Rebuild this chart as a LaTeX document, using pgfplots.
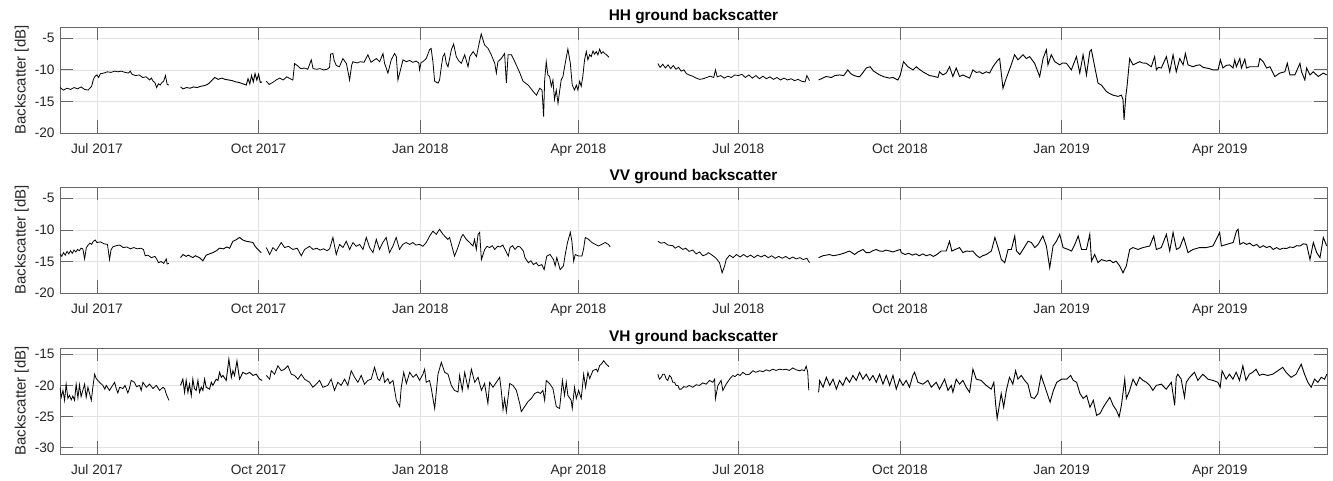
\documentclass[border=0pt]{standalone}
\usepackage{fontspec}
\setmainfont{Liberation Sans}
\usepackage{pgfplots}
\pgfplotsset{compat=1.18}
\definecolor{axc}{RGB}{38,38,38}
\definecolor{gridc}{RGB}{226,226,226}
% x = days since 1 Jul 2017
\pgfplotsset{
  bsc/.style={
    scale only axis, width=633.5pt, height=53pt,
    xmin=-21, xmax=700,
    xtick={0,92,184,274,365,457,549,639},
    xticklabels={Jul 2017,Oct 2017,Jan 2018,Apr 2018,Jul 2018,Oct 2018,Jan 2019,Apr 2019},
    tick align=inside, major tick length=6.3pt,
    grid=major, grid style={gridc, line width=0.35pt},
    axis line style={axc!70, line width=0.4pt},
    every tick/.style={axc!70, line width=0.4pt},
    tick label style={font=\fontsize{6.85}{8}\selectfont, text=axc},
    /pgf/number format/assume math mode=true,
    yticklabel style={anchor=east, inner sep=0pt, xshift=-2.5pt},
    xticklabel style={anchor=north, inner sep=0pt, yshift=-5.1pt},
    ylabel={Backscatter [dB]},
    every axis y label/.style={at={(axis description cs:-0.0302,0.5)}, rotate=90,
      anchor=center, font=\fontsize{7.5}{9}\selectfont, text=axc},
    every axis title/.style={at={(axis description cs:0.5,1)}, anchor=base,
      yshift=3pt, font=\bfseries\fontsize{7.7}{9}\selectfont, text=black},
    cycle list={{black, line width=0.45pt, mark=none}},
    no markers,
  }
}
\begin{document}
\begin{tikzpicture}
\useasboundingbox (0,0) rectangle (666.5pt,240.5pt);

% ---------------- HH ----------------
\begin{axis}[bsc, at={(30pt,174pt)}, anchor=south west,
  ymin=-20, ymax=-3.2, ytick={-20,-15,-10,-5}, title={HH ground backscatter}]
\addplot coordinates {(-21,-12.8) (-19,-13.2) (-17,-12.9) (-15,-13.1) (-13,-12.8) (-11,-13.0) (-9,-12.7) (-7,-13.1) (-5,-13.2) (-3,-12.6) (-2,-11.5) (-1,-11.0) (0,-10.8) (1,-11.2) (2,-10.6) (4,-10.5) (6,-10.3) (8,-10.4) (10,-10.2) (12,-10.3) (14,-10.2) (16,-10.4) (18,-10.5) (19,-10.2) (20,-10.7) (22,-10.9) (24,-10.8) (26,-11.2) (28,-11.1) (30,-11.6) (31,-11.3) (32,-11.8) (33,-12.0) (34,-12.8) (35,-12.2) (36,-12.4) (37,-12.0) (38,-11.8) (39,-10.9) (40,-12.3) (41,-12.4)};
\addplot coordinates {(47.6,-12.7) (49,-13.0) (51,-12.8) (53,-12.9) (55,-12.7) (57,-12.8) (59,-12.6) (61,-12.5) (63,-12.3) (65,-11.8) (67,-11.2) (69,-11.5) (71,-11.3) (73,-11.5) (75,-11.6) (77,-11.7) (79,-11.9) (81,-12.0) (83,-12.2) (85,-12.4) (86,-11.4) (87,-12.2) (88,-10.9) (89,-11.9) (90,-10.6) (91,-11.6) (92,-10.7) (93,-12.0) (94,-11.9)};
\addplot coordinates {(96.4,-11.8) (98,-12.3) (100,-12.0) (102,-11.6) (104,-11.3) (106,-11.6) (108,-11.1) (110,-11.4) (111.5,-11.6) (112.5,-9.0) (114,-9.3) (116,-9.8) (118,-9.7) (120,-9.9) (122,-8.4) (123,-9.8) (125,-9.9) (127,-9.8) (129,-10.0) (131,-9.9) (132.4,-9.6) (133,-7.5) (134.3,-7.4) (135,-8.5) (136.2,-9.3) (138,-9.5) (140,-8.2) (142,-9.0) (143.8,-11.6) (145,-9.2) (145.7,-8.7) (148,-8.9) (150,-8.7) (152,-8.8) (154.2,-7.6) (156,-8.8) (159,-8.2) (160.9,-8.7) (162.8,-7.4) (163.7,-8.95) (165.6,-10.5) (167.5,-8.4) (169.4,-7.4) (170.4,-7.9) (171.3,-11.6) (173.2,-9.5) (174.2,-8.4) (176.1,-8.7) (178,-8.5) (179.8,-8.8) (181.7,-8.6) (183.2,-8.9) (183.6,-10.0) (184.5,-8.8) (185.5,-8.7) (187.4,-8.2) (189.3,-6.8) (190.2,-6.6) (191.2,-8.7) (192.2,-11.8) (194.1,-12.1) (195,-11.6) (196,-9.5) (196.9,-7.9) (197.9,-7.4) (198.8,-8.95) (199.8,-9.5) (201.7,-6.8) (203,-5.9) (204.5,-7.9) (206,-8.6) (207.4,-8.95) (209.3,-7.6) (211.2,-9.5) (212.2,-7.9) (214.1,-7.1) (216,-7.9) (216.9,-6.6) (218.7,-4.3) (220.6,-6.05) (222.6,-6.6) (224.4,-7.6) (226.4,-8.95) (227.3,-10.5) (228.2,-8.7) (230.1,-8.2) (232,-7.4) (233,-12.1) (234,-7.6) (235.9,-7.6) (237.8,-8.7) (240.7,-10.5) (242.5,-11.8) (245.4,-12.4) (248.2,-13.4) (250.1,-14.0) (252,-12.9) (253.3,-13.2) (254.2,-17.4) (254.8,-11.6) (255.7,-8.7) (256.6,-10.8) (257.6,-11.05) (258.6,-12.6) (259.5,-11.6) (260.4,-14.7) (261.4,-13.2) (262.4,-15.3) (263.3,-13.4) (264.2,-11.6) (265.2,-11.05) (266.5,-8.95) (268,-6.7) (269.4,-8.95) (270.5,-12.4) (271.8,-13.2) (272.8,-12.4) (273.7,-13.2) (274.7,-11.8) (275.6,-12.6) (276.5,-11.05) (277.5,-8.4) (278.5,-7.1) (279.4,-8.4) (280.4,-7.6) (281.3,-7.9) (282.3,-7.0) (283.2,-7.5) (284.2,-7.1) (285.1,-7.6) (286.1,-6.7) (287,-7.4) (288,-7.1) (288.9,-7.4) (290,-7.6) (291.4,-8.0)};
\addplot coordinates {(319.2,-9.0) (320.5,-9.6) (322,-9.1) (323.5,-9.7) (325,-9.2) (326.5,-9.8) (328,-9.3) (329.5,-9.9) (331,-9.6) (332.5,-10.2) (334,-10.0) (335.5,-10.6) (337,-10.8) (339,-11.0) (341,-11.3) (343,-11.5) (345,-11.4) (347,-11.2) (349,-11.0) (351,-11.2) (352,-10.0) (353,-11.1) (355,-10.9) (357,-11.3) (359,-11.0) (361,-11.2) (363,-10.8) (365,-10.9) (367,-10.7) (369,-11.2) (371,-10.8) (373,-11.3) (375,-10.9) (377,-11.4) (379,-11.0) (381,-11.4) (383,-11.1) (385,-11.5) (387,-11.2) (389,-11.6) (391,-11.3) (393,-11.6) (395,-11.4) (397,-11.7) (399,-11.5) (401,-11.8) (403,-11.9) (404,-10.9) (405.5,-11.7)};
\addplot coordinates {(410.7,-11.6) (413,-11.3) (415,-11.05) (418,-11.2) (420,-10.9) (422.6,-10.8) (425,-10.9) (427.3,-10.0) (429,-10.6) (430.2,-10.8) (432,-11.0) (434,-11.1) (436,-10.4) (437.8,-9.7) (440,-9.5) (442,-10.2) (445.4,-10.8) (448,-11.1) (451,-11.3) (453,-11.2) (455.8,-11.6) (457.2,-10.8) (459,-8.7) (461.5,-9.5) (464.4,-10.0) (466.2,-9.5) (468,-9.9) (470,-10.3) (473.8,-10.9) (476,-11.0) (478.6,-11.2) (479.5,-10.3) (481.4,-10.8) (483.3,-10.5) (485.2,-9.5) (487.1,-11.05) (489,-9.7) (490.9,-11.05) (492.8,-10.8) (494.7,-11.05) (496.6,-11.3) (498.5,-10.0) (500.4,-10.4) (502.3,-10.3) (504,-10.6) (506.1,-10.3) (508,-10.5) (509.9,-9.5) (512.8,-8.4) (513.7,-8.2) (515.6,-12.9) (517.5,-11.3) (520.3,-9.2) (522.2,-7.6) (524.1,-8.4) (527,-7.6) (528.9,-8.2) (530.8,-7.9) (533.6,-8.95) (536.5,-11.05) (538.4,-8.2) (540.3,-6.8) (541.2,-9.2) (543.1,-7.6) (545.1,-8.7) (547.9,-9.2) (549.5,-8.9) (551.7,-8.95) (554.5,-10.0) (557.4,-7.9) (559.3,-10.5) (561.2,-7.6) (563.1,-10.8) (565,-7.1) (565.9,-6.8) (567.8,-9.5) (569.7,-12.1) (571.6,-12.4) (574.4,-13.4) (576,-13.7) (578.2,-14.0) (581.1,-14.2) (583,-14.0) (583.9,-14.7) (584.5,-17.9) (585.5,-14.2) (586.2,-12.6) (587.7,-8.2) (589.6,-9.2) (591.5,-8.95) (593.4,-8.7) (595,-8.9) (597.2,-8.95) (600,-9.5) (601.9,-7.9) (602.9,-10.0) (604,-9.6) (605.7,-9.7) (608.6,-7.9) (610.5,-10.3) (612.4,-7.6) (614.2,-10.3) (616.2,-8.2) (618.1,-9.2) (619.4,-7.4) (620.9,-9.2) (623.7,-9.5) (625.5,-9.3) (627.6,-9.2) (629.5,-9.6) (631.3,-9.7) (633,-9.8) (635.1,-10.0) (638,-10.0) (639.3,-8.4) (640.8,-9.7) (642.5,-9.3) (644.6,-9.2) (646.5,-9.7) (647.5,-8.4) (648.4,-9.5) (650.4,-8.2) (651.3,-9.7) (653.2,-8.3) (654.2,-9.7) (656.1,-9.5) (658.9,-9.5) (660.8,-9.5) (661.8,-8.2) (663.7,-8.7) (665.6,-9.7) (667.5,-9.5) (670.3,-11.05) (673.2,-10.5) (676,-10.3) (677.4,-8.95) (678.9,-10.8) (681.7,-10.8) (684.6,-8.95) (685.5,-10.3) (687.4,-11.6) (688.4,-9.7) (690.3,-10.8) (692.2,-10.3) (695,-11.05) (697.9,-10.5) (699.8,-10.8)};
\end{axis}

% ---------------- VV ----------------
\begin{axis}[bsc, at={(30pt,94pt)}, anchor=south west,
  ymin=-20, ymax=-3.2, ytick={-20,-15,-10,-5}, title={VV ground backscatter}]
\addplot coordinates {(-21,-13.8) (-20,-14.2) (-19,-13.6) (-18,-14.0) (-17,-13.4) (-16,-13.8) (-15,-13.3) (-14,-13.7) (-13,-13.2) (-12,-13.5) (-11,-13.1) (-10,-13.3) (-9,-12.9) (-8,-13.0) (-7,-14.6) (-6,-12.8) (-5,-12.4) (-4,-12.1) (-3,-12.3) (-2,-11.8) (-1,-11.6) (0,-12.0) (2,-11.9) (4,-12.2) (6,-12.3) (7.2,-14.7) (8,-13.2) (9,-12.7) (11,-12.5) (13,-12.4) (15,-12.8) (17,-12.7) (19,-13.0) (21,-12.8) (23,-13.0) (25,-12.9) (26.5,-13.1) (27.5,-14.1) (29,-14.0) (31,-14.4) (33,-14.2) (34,-14.6) (35,-15.2) (36.5,-15.0) (38,-15.3) (39.5,-14.6) (40,-15.4) (41,-15.3)};
\addplot coordinates {(47.6,-14.4) (49,-13.9) (50.8,-14.2) (52,-14.0) (54.6,-14.4) (56,-14.1) (58.4,-14.4) (60.3,-14.9) (62.2,-14.0) (64,-13.8) (66,-13.6) (68,-13.3) (69.8,-12.9) (72,-13.0) (74,-12.7) (75.5,-12.9) (77.4,-11.8) (79,-11.6) (81.2,-11.2) (83,-11.6) (85,-11.8) (87,-11.9) (88.8,-12.0) (90,-12.6) (91.6,-13.1) (93.5,-13.6)};
\addplot coordinates {(96.4,-12.8) (98.3,-13.9) (100.2,-12.8) (102,-13.3) (104.9,-12.0) (106.8,-12.8) (109,-12.6) (111.5,-13.1) (114,-12.9) (116.3,-14.1) (118.2,-13.1) (121,-12.6) (123,-13.1) (125,-12.9) (127,-13.2) (129,-13.0) (131,-13.3) (132.4,-13.0) (134.3,-11.2) (136.2,-13.9) (138.1,-12.3) (140,-12.8) (141.9,-11.8) (143.8,-13.1) (145.7,-12.0) (147.6,-12.6) (149.5,-12.3) (151.4,-13.1) (153.3,-11.2) (155.2,-12.8) (157.1,-13.6) (159,-11.5) (160.8,-13.1) (162.7,-12.0) (164.6,-11.2) (166.5,-13.6) (168.4,-12.6) (170.3,-11.2) (172.2,-13.1) (174,-12.3) (176,-12.0) (178,-12.3) (179.8,-12.0) (181.5,-12.4) (183.6,-12.3) (185.5,-12.6) (187.4,-12.0) (189.3,-11.0) (191.2,-10.2) (193.1,-10.7) (195,-9.9) (196.9,-10.7) (199.7,-11.5) (200.7,-11.2) (203.5,-14.15) (205.4,-12.8) (207.3,-11.2) (208.3,-10.7) (210.2,-11.5) (212.1,-12.0) (214,-12.55) (214.9,-11.5) (215.9,-13.1) (216.9,-10.7) (217.8,-10.4) (218.8,-14.7) (220.7,-13.1) (222,-12.6) (223.5,-12.8) (225,-12.5) (226.4,-13.1) (228,-12.6) (229.4,-12.7) (231,-12.4) (232.2,-13.1) (234.1,-14.15) (235.1,-12.8) (236.5,-12.5) (237.9,-13.1) (239.5,-12.6) (240.8,-12.7) (242.7,-13.35) (243.6,-14.4) (245.5,-15.2) (247,-14.9) (248.4,-15.5) (250,-15.2) (251.3,-15.7) (253.2,-15.5) (254.5,-16.3) (256,-14.15) (257.9,-13.9) (259.8,-14.7) (260.8,-15.7) (261.7,-14.4) (263.6,-16.3) (265.5,-15.7) (266.5,-13.9) (267.8,-12.0) (269.4,-10.4) (270.3,-11.8) (271.3,-14.95) (272.2,-13.9) (274.2,-14.15) (276,-14.15) (276.9,-13.1) (277.9,-11.2) (279.8,-11.5) (281.7,-12.0) (283.6,-12.3) (285.5,-12.55) (287.3,-12.3) (289.2,-12.0) (291.1,-12.3) (292.1,-12.7)};
\addplot coordinates {(319.2,-11.8) (321,-12.1) (323,-12.0) (325,-12.4) (327.7,-12.5) (329,-12.9) (331,-12.6) (333.4,-13.1) (335,-12.9) (337,-13.4) (339.1,-13.2) (341,-13.8) (343,-13.5) (344.8,-14.1) (346.7,-13.9) (348,-13.6) (349.6,-13.9) (351,-14.2) (352.4,-14.5) (354.3,-15.2) (355.8,-16.8) (357.2,-15.7) (358.1,-14.7) (360,-14.0) (362,-14.4) (364,-13.9) (366,-14.3) (368,-13.9) (370,-14.3) (372,-14.0) (374,-14.4) (376,-14.0) (378,-14.3) (380,-14.0) (382,-14.4) (384,-14.1) (386,-14.5) (388,-14.2) (390,-14.5) (392,-14.2) (394,-14.6) (396,-14.3) (398,-14.6) (400,-14.4) (402,-14.7) (404,-14.5) (405.5,-15.2)};
\addplot coordinates {(410.7,-14.4) (413.1,-14.1) (415,-14.0) (416.9,-13.9) (419,-14.1) (422.6,-13.9) (425,-13.7) (428.3,-13.35) (431.2,-13.9) (433,-13.5) (435.9,-13.1) (437.8,-13.6) (439.7,-13.6) (441.5,-13.3) (443.5,-13.1) (445.4,-13.35) (447.3,-13.4) (449,-13.2) (451.1,-13.35) (453,-13.5) (455,-13.3) (457.2,-13.1) (457.7,-13.6) (460,-13.9) (462,-13.7) (464,-14.0) (466,-13.8) (468,-14.1) (470,-13.8) (472,-14.1) (474,-13.9) (476,-14.2) (478,-13.9) (480.4,-13.35) (483.3,-13.35) (485.2,-11.8) (486.5,-13.35) (488.5,-13.1) (490.9,-12.8) (492.8,-13.6) (494.7,-13.35) (496.6,-13.4) (498.5,-13.35) (500.4,-14.0) (502.3,-14.4) (504,-14.1) (506.1,-13.9) (509,-13.35) (511,-11.2) (512.8,-12.8) (514.7,-14.7) (516.6,-15.2) (518.5,-13.1) (520.4,-13.1) (522.3,-10.96) (523.3,-13.35) (525.2,-13.9) (527,-13.1) (529.9,-11.8) (531.8,-12.0) (533.7,-12.8) (535.6,-12.3) (538.3,-10.96) (540.3,-12.55) (542.2,-16.0) (544.1,-12.55) (546,-11.8) (547.9,-10.7) (549.8,-12.8) (552.7,-13.1) (554.6,-13.35) (556.5,-12.3) (558.4,-10.96) (560.3,-13.1) (563.1,-13.1) (565,-10.7) (566,-14.95) (567.8,-13.9) (569.7,-15.2) (571.6,-14.7) (574.5,-14.95) (576.5,-14.8) (578.3,-15.2) (580,-14.95) (582,-15.7) (583.9,-16.8) (585.8,-15.7) (587.7,-13.1) (589.6,-12.8) (592.4,-13.1) (595.3,-12.8) (599.1,-12.55) (601.4,-10.96) (602.9,-13.1) (605.7,-12.8) (608.6,-10.7) (610.5,-13.35) (612.4,-10.4) (614.3,-13.1) (616.2,-12.8) (618.4,-11.2) (620.9,-13.6) (623.7,-13.1) (627.5,-12.8) (631.3,-12.8) (635.1,-12.55) (638.9,-10.4) (639.9,-12.55) (642.8,-12.3) (646.6,-12.0) (648.5,-10.16) (649.4,-9.9) (650.4,-12.3) (652.3,-12.0) (654.2,-12.3) (656,-12.1) (658,-12.55) (660,-12.3) (661.8,-12.8) (663.7,-12.5) (665.6,-12.8) (667.5,-12.6) (669.4,-13.1) (671.3,-12.8) (673.2,-13.1) (675,-12.9) (677,-12.95) (679,-12.7) (680.8,-12.8) (682.7,-12.5) (684.6,-12.55) (686.5,-12.2) (688.4,-12.3) (690.3,-14.7) (692.2,-12.0) (694.1,-13.6) (696,-14.4) (697.9,-11.2) (699.8,-12.55)};
\end{axis}

% ---------------- VH ----------------
\begin{axis}[bsc, at={(30pt,13.5pt)}, anchor=south west,
  ymin=-31, ymax=-14, ytick={-30,-25,-20,-15}, title={VH ground backscatter}]
\addplot coordinates {(-21,-20.3) (-20.3,-21.9) (-19.3,-20.8) (-18.4,-22.4) (-17.5,-19.8) (-16.5,-22.1) (-15.6,-21.6) (-14.6,-22.3) (-13.7,-21.7) (-12.7,-22.4) (-11.8,-19.8) (-10.8,-22.0) (-9.9,-19.9) (-9,-21.8) (-8,-20.8) (-7,-19.8) (-6.1,-21.9) (-5.1,-20.3) (-4,-21.5) (-3.2,-22.4) (-2.3,-20.3) (-1.3,-18.2) (-0.4,-18.9) (1.5,-19.5) (3.4,-20.0) (4.5,-20.6) (5.3,-20.0) (7.2,-20.8) (8.5,-20.2) (10.1,-19.5) (11,-20.5) (11.9,-21.2) (13,-20.3) (14.8,-20.5) (16,-20.0) (17.6,-21.2) (18.5,-20.5) (19.5,-19.2) (21.4,-19.5) (22.5,-20.2) (24.3,-20.0) (25.2,-20.8) (26.2,-19.5) (28.1,-20.3) (30,-19.8) (31.9,-20.5) (33.8,-20.0) (35.7,-20.8) (37.6,-20.3) (38.5,-20.5) (39.5,-21.4) (41,-22.4)};
\addplot coordinates {(47.6,-20.0) (48.9,-19.0) (49.9,-21.1) (50.8,-19.2) (51.8,-21.1) (52.7,-19.8) (53.7,-21.6) (54.6,-19.0) (55.5,-20.5) (56.5,-20.8) (57.5,-19.2) (58.4,-21.1) (59.4,-20.3) (60.3,-20.8) (61.3,-19.0) (62.2,-20.3) (64.1,-20.6) (65.1,-19.5) (66,-20.0) (67.9,-19.0) (68.9,-19.2) (69.8,-17.9) (70.8,-18.7) (71.7,-18.4) (73.6,-19.2) (75.1,-15.8) (76.5,-18.7) (77.4,-17.65) (78.3,-18.4) (79.7,-16.1) (81.2,-19.0) (83.1,-17.9) (85,-18.2) (86.9,-17.9) (88.8,-18.4) (90.7,-18.2) (92.6,-19.0) (94.1,-19.2)};
\addplot coordinates {(96.4,-18.4) (98.3,-19.0) (99.2,-17.65) (101.1,-18.2) (103,-16.85) (104.9,-17.65) (106.8,-17.4) (108.7,-16.85) (110.6,-18.2) (112.5,-18.4) (114.4,-19.0) (116.3,-18.2) (118.2,-19.0) (121,-19.5) (122.9,-20.3) (124.8,-19.8) (126.7,-19.2) (128.6,-20.3) (131.4,-20.0) (133.3,-19.0) (135.2,-20.8) (137.1,-19.5) (139,-20.0) (140.9,-19.0) (142.8,-20.0) (144.7,-17.65) (146.6,-18.7) (148.5,-19.5) (150.4,-18.4) (152.3,-19.8) (154.2,-19.2) (156.1,-19.0) (158,-17.1) (159.9,-19.0) (160.9,-19.2) (162.8,-17.9) (163.7,-19.5) (165.6,-18.9) (166.6,-19.7) (168.5,-19.2) (170.4,-22.4) (172.3,-23.4) (173.2,-20.3) (174.6,-17.9) (176.1,-19.7) (178,-17.9) (179.9,-18.7) (181.8,-18.2) (183.6,-19.2) (185.5,-18.2) (186.5,-17.4) (187.4,-19.5) (189.3,-19.2) (190.3,-20.5) (192.2,-23.7) (194.1,-18.2) (196,-16.3) (197.9,-17.9) (199.8,-18.2) (201.7,-20.0) (203.5,-20.8) (205.5,-21.05) (206.4,-18.4) (207.9,-20.8) (209.3,-17.9) (211.2,-20.5) (213.1,-17.4) (215,-19.5) (216.9,-18.7) (218.8,-20.8) (220.6,-19.7) (222.5,-22.9) (223.5,-19.5) (225.4,-20.3) (227.3,-19.5) (229.2,-18.7) (230.1,-20.8) (231.1,-23.9) (232,-22.1) (233,-24.2) (234.9,-19.7) (236.8,-20.0) (238.7,-20.8) (240.6,-22.9) (241.5,-24.2) (243.4,-23.4) (245.3,-22.6) (247.2,-22.1) (249.1,-21.3) (251,-21.05) (252.4,-21.3) (253.8,-20.8) (254.8,-22.4) (255.7,-19.2) (257.6,-19.7) (259.5,-20.5) (261.4,-23.4) (263.3,-23.7) (264.9,-19.2) (266.1,-21.6) (267.1,-19.5) (268,-21.6) (269.9,-22.4) (270.5,-23.7) (271.8,-20.3) (272.8,-22.1) (274.1,-20.8) (275.6,-22.1) (277,-18.2) (278.1,-20.3) (279.4,-17.9) (280.4,-18.9) (282.3,-17.6) (284.2,-17.4) (285,-17.8) (286.1,-16.8) (287,-16.6) (288.4,-16.05) (289.9,-16.6) (291.4,-17.0)};
\addplot coordinates {(319.2,-18.2) (320.1,-19.0) (321.1,-18.7) (322,-18.2) (323,-18.2) (324,-19.0) (324.9,-19.2) (325.8,-18.4) (326.8,-18.7) (327.7,-19.5) (328.7,-19.5) (329.6,-20.0) (330.6,-20.0) (331.5,-20.6) (332.5,-20.6) (334,-20.2) (335.4,-20.3) (337,-20.0) (339.1,-20.3) (341,-19.9) (342.9,-20.0) (344.8,-19.6) (346.7,-19.8) (348.6,-19.2) (350.5,-19.5) (351.5,-19.0) (352,-22.1) (353.4,-20.0) (355.2,-19.2) (356.2,-20.8) (358.1,-19.8) (360,-19.0) (361.9,-18.4) (363,-18.6) (364.7,-18.2) (366,-18.4) (367.6,-17.9) (369.5,-18.3) (371.4,-18.2) (373.3,-17.65) (375,-17.9) (377.1,-17.65) (379,-17.8) (380.9,-17.5) (382.7,-17.7) (384.6,-17.4) (386.5,-17.6) (388.4,-17.4) (390.3,-17.5) (392.2,-17.4) (394,-17.6) (396,-17.2) (398,-17.5) (399.8,-17.65) (401.2,-17.5) (402.6,-17.65) (403.6,-16.9) (404.5,-17.9) (405.1,-20.8)};
\addplot coordinates {(410.7,-21.1) (411.3,-19.2) (413.2,-20.3) (415.1,-18.7) (417,-20.0) (418.9,-19.0) (420.8,-20.6) (422.6,-19.2) (424.5,-20.0) (426.4,-18.7) (428.3,-19.5) (430.2,-18.4) (432.1,-19.2) (434,-17.9) (435.9,-19.0) (437.8,-18.2) (439.7,-19.2) (441.6,-18.4) (443.5,-19.5) (445.4,-18.2) (447.3,-19.8) (449.2,-18.4) (451.1,-20.0) (453,-18.4) (454.9,-20.6) (456.8,-19.0) (458.7,-20.0) (460.5,-19.2) (462.4,-20.3) (464.3,-18.4) (465.3,-17.9) (467.2,-19.5) (470,-19.8) (472.9,-19.2) (474.8,-20.3) (477.6,-19.5) (479.5,-20.6) (482.4,-19.0) (484.3,-20.8) (486.2,-20.0) (487.1,-21.1) (489,-19.0) (490.9,-19.8) (492.8,-19.2) (494.7,-20.3) (496.6,-21.1) (498.5,-17.4) (500.4,-19.0) (503.2,-19.2) (506.1,-20.0) (508.9,-20.6) (510.4,-19.5) (511.4,-22.9) (512.3,-25.3) (513.7,-22.9) (514.6,-21.3) (516,-23.5) (517.5,-20.8) (519.3,-18.7) (521.2,-19.8) (522.8,-17.65) (524.1,-19.0) (526,-18.4) (527.9,-19.2) (529.8,-19.8) (531.6,-21.9) (533.5,-22.1) (535.4,-21.3) (537.3,-18.4) (539.2,-20.0) (541.1,-21.6) (542.4,-22.7) (544.3,-20.8) (546.2,-19.5) (549,-19.0) (551.9,-19.0) (554.1,-18.4) (555.6,-19.2) (557.5,-19.5) (559.4,-21.3) (561.3,-22.1) (563.2,-21.6) (565.1,-23.5) (567,-22.4) (568.9,-24.8) (570.8,-24.5) (572.7,-23.5) (574.5,-22.7) (576.4,-21.9) (578.3,-23.2) (580.2,-24.0) (581.7,-25.05) (583,-23.2) (584.9,-19.0) (585.8,-22.1) (587.7,-20.8) (589.6,-19.0) (591.5,-20.0) (593.4,-18.7) (595.3,-19.2) (597.2,-19.5) (599.1,-20.0) (600.9,-20.8) (602.8,-20.0) (605.7,-19.8) (608.5,-20.6) (611.4,-19.5) (613.3,-23.2) (614.2,-18.7) (615.1,-18.2) (617,-19.0) (618.9,-21.9) (619.9,-19.5) (621.8,-18.7) (624.6,-17.9) (626.5,-19.2) (629.3,-18.2) (632.2,-19.0) (635.1,-19.2) (637.9,-19.5) (639.2,-20.3) (640.3,-17.65) (642.6,-19.0) (644.5,-18.2) (646.4,-19.0) (648.3,-17.9) (650.2,-19.2) (652.1,-16.85) (653.9,-19.2) (655.8,-18.2) (657.7,-17.9) (659.6,-17.4) (661.5,-18.4) (663.4,-18.2) (666.3,-18.4) (669.1,-18.2) (672,-17.65) (674.8,-17.1) (676.7,-17.9) (679.6,-18.7) (682.4,-18.2) (685.3,-16.6) (687.2,-18.2) (689.1,-19.5) (691,-20.3) (692.9,-19.0) (694.8,-19.5) (696.7,-18.7) (698.6,-19.0) (699.9,-18.2)};
\end{axis}
\end{tikzpicture}
\end{document}
